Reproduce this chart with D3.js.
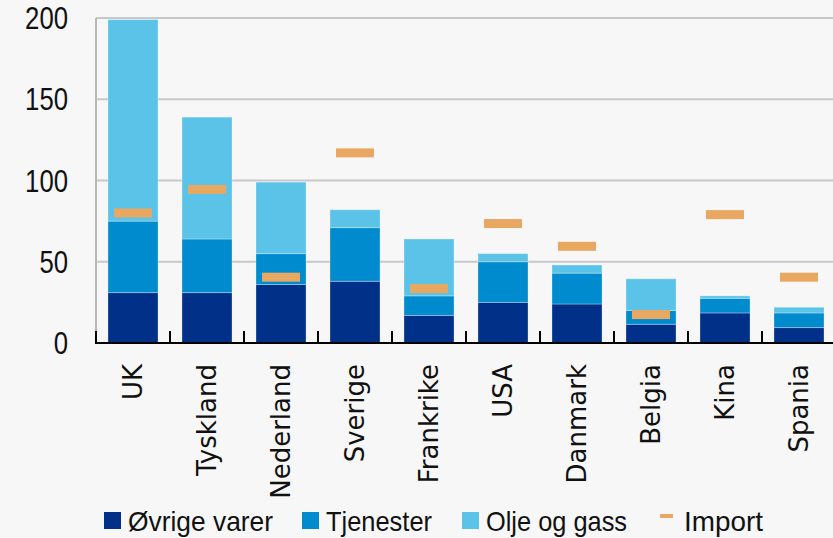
<!DOCTYPE html>
<html>
<head>
<meta charset="utf-8">
<script src="https://cdn.jsdelivr.net/npm/d3@7"></script>
<style>
  body { margin: 0; background: #f7f7f7; }
  svg { display: block; }
  .ytick { font-family: "Liberation Sans", sans-serif; font-size: 31px; fill: #111; }
  .xcat { font-family: "DejaVu Sans", sans-serif; font-size: 26px; fill: #111; }
  .legend_text { font-family: "Liberation Sans", sans-serif; font-size: 28px; fill: #111; }
</style>
</head>
<body>
<div class="chart"></div>
<script>
// data
var countries = ["UK", "Tyskland", "Nederland", "Sverige", "Frankrike", "USA", "Danmark", "Belgia", "Kina", "Spania"];
var ovrige_varer = [31, 31, 36, 38, 17, 25, 24, 11.5, 18.5, 9.5];
var tjenester    = [44, 33, 19, 33, 12, 25, 19, 8.5, 9, 9];
var olje_gass    = [124, 75, 44, 11, 35, 5, 5, 19.5, 1.5, 3.5];
var import_vals  = [80, 94.5, 40.5, 117, 33.5, 73.5, 59.5, 17.5, 79, 40.5];
var y_ticks = [0, 50, 100, 150, 200];

var series_names = ["Øvrige varer", "Tjenester", "Olje og gass"];
var colors = ["#003087", "#008bcf", "#5bc3e8"];
var import_color = "#e8a862";

// frame
var frame = { width: 833, height: 538, left: 96, right: 836, top: 18, bottom: 343 };

var rows = countries.map(function(c, i) {
  return { country: c, "Øvrige varer": ovrige_varer[i], "Tjenester": tjenester[i], "Olje og gass": olje_gass[i], imp: import_vals[i] };
});

var x = d3.scaleBand().domain(countries).range([frame.left, frame.right]).paddingInner(0.324).paddingOuter(0.162);
var y = d3.scaleLinear().domain([0, 200]).range([frame.bottom, frame.top]);

var svg = d3.select(".chart").append("svg")
  .attr("width", frame.width)
  .attr("height", frame.height);

svg.append("rect").attr("width", frame.width).attr("height", frame.height).attr("fill", "#f7f7f7");

// gridlines
svg.append("g").selectAll("line")
  .data(y_ticks.filter(function(t) { return t > 0; }))
  .join("line")
  .attr("x1", frame.left).attr("x2", frame.width)
  .attr("y1", function(d) { return y(d); }).attr("y2", function(d) { return y(d); })
  .attr("stroke", "#c8c8c8").attr("stroke-width", 2);

// left axis line (gray)
svg.append("line")
  .attr("x1", frame.left).attr("x2", frame.left)
  .attr("y1", frame.top).attr("y2", frame.bottom)
  .attr("stroke", "#b8b8b8").attr("stroke-width", 2);

// y tick labels (narrow font look -> squeeze to measured width)
svg.append("g").selectAll("text")
  .data(y_ticks)
  .join("text")
  .attr("class", "ytick")
  .attr("x", 68)
  .attr("y", function(d) { return y(d); })
  .attr("dy", "0.36em")
  .attr("text-anchor", "end")
  .attr("textLength", function(d) { return String(d).length * 14.3; })
  .attr("lengthAdjust", "spacingAndGlyphs")
  .text(function(d) { return d; });

// stacked bars
var stack = d3.stack().keys(series_names)(rows);
svg.append("g").selectAll("g")
  .data(stack)
  .join("g")
  .attr("fill", function(d, i) { return colors[i]; })
  .selectAll("rect")
  .data(function(d) { return d; })
  .join("rect")
  .attr("x", function(d) { return x(d.data.country); })
  .attr("width", x.bandwidth())
  .attr("y", function(d) { return y(d[1]); })
  .attr("height", function(d) { return y(d[0]) - y(d[1]); })
  .attr("stroke", "rgba(255,255,255,0.3)")
  .attr("stroke-width", 1);

// import markers
svg.append("g").selectAll("rect")
  .data(rows)
  .join("rect")
  .attr("x", function(d) { return x(d.country) + x.bandwidth() / 2 - 19; })
  .attr("y", function(d) { return y(d.imp) - 4.5; })
  .attr("width", 38)
  .attr("height", 9)
  .attr("fill", import_color);

// bottom axis with ticks at band edges
svg.append("line")
  .attr("x1", frame.left - 1).attr("x2", frame.width)
  .attr("y1", frame.bottom).attr("y2", frame.bottom)
  .attr("stroke", "#000").attr("stroke-width", 2);

var step = x.step();
svg.append("g").selectAll("line")
  .data(countries)
  .join("line")
  .attr("x1", function(d) { return x(d) - x.paddingOuter() * step; })
  .attr("x2", function(d) { return x(d) - x.paddingOuter() * step; })
  .attr("y1", frame.bottom - 12).attr("y2", frame.bottom)
  .attr("stroke", "#000").attr("stroke-width", 2);

// category labels, rotated
svg.append("g").selectAll("text")
  .data(countries)
  .join("text")
  .attr("class", "xcat")
  .attr("transform", function(d) { return "translate(" + (x(d) + x.bandwidth() / 2) + "," + 364 + ") rotate(-90)"; })
  .attr("dy", "0.36em")
  .attr("text-anchor", "end")
  .text(function(d) { return d; });

// legend
var legend_x = [104, 302, 462];
var legend_w = [145, 106, 141];
series_names.forEach(function(name, i) {
  svg.append("rect")
    .attr("x", legend_x[i]).attr("y", 512)
    .attr("width", 17).attr("height", 17)
    .attr("fill", colors[i]);
  svg.append("text")
    .attr("class", "legend_text")
    .attr("x", legend_x[i] + 24).attr("y", 531)
    .attr("textLength", legend_w[i])
    .attr("lengthAdjust", "spacingAndGlyphs")
    .text(name);
});
svg.append("rect")
  .attr("x", 660).attr("y", 514)
  .attr("width", 13).attr("height", 4)
  .attr("fill", import_color);
svg.append("text")
  .attr("class", "legend_text")
  .attr("x", 684).attr("y", 531)
  .attr("textLength", 79)
  .attr("lengthAdjust", "spacingAndGlyphs")
  .text("Import");
</script>
</body>
</html>
